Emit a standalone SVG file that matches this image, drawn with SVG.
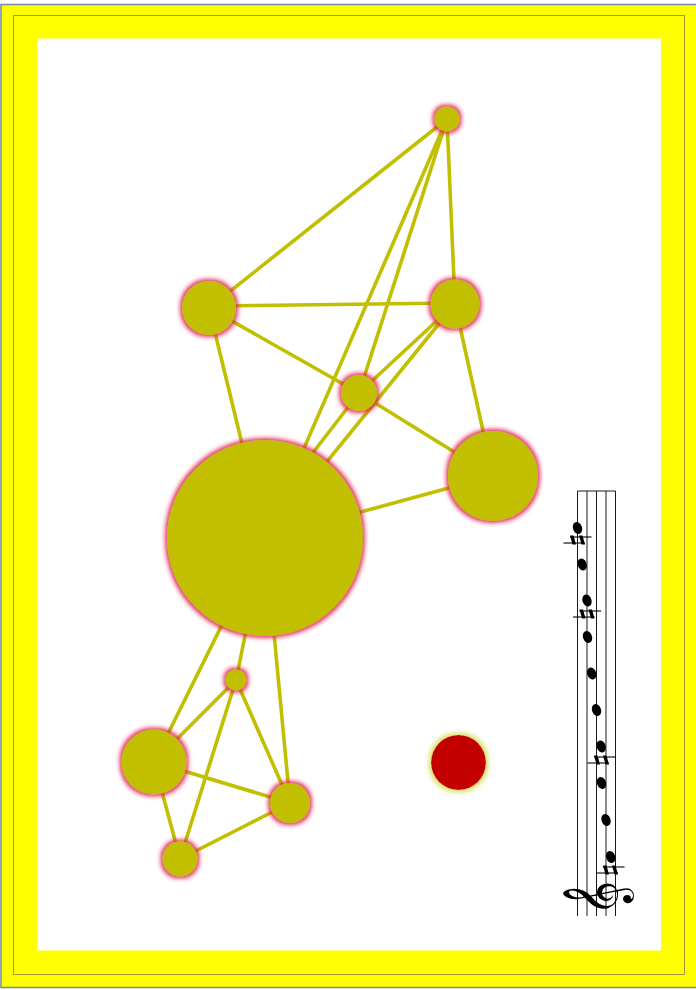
<svg xmlns="http://www.w3.org/2000/svg" width="696" height="990" viewBox="0 0 696 990">
<style>
.edge{stroke:#c1bf00;stroke-width:3.6;stroke-linecap:round;fill:none}
.node{fill:#c1bf00;filter:url(#glow)}
.staff{stroke:#1a1a1a;stroke-width:1;fill:none}
.head{fill:#000}
</style>
<defs>
<filter id="glow" x="-50%" y="-50%" width="200%" height="200%">
<feMorphology in="SourceAlpha" operator="dilate" radius="1.5" result="d"/>
<feGaussianBlur in="d" stdDeviation="2.2" result="b"/>
<feFlood flood-color="#e02050" flood-opacity="0.9"/>
<feComposite in2="b" operator="in" result="g"/>
<feMerge><feMergeNode in="g"/><feMergeNode in="SourceGraphic"/></feMerge>
</filter>
<filter id="glowY" x="-50%" y="-50%" width="200%" height="200%">
<feMorphology in="SourceAlpha" operator="dilate" radius="1.5" result="d"/>
<feGaussianBlur in="d" stdDeviation="2.5" result="b"/>
<feFlood flood-color="#d8d850" flood-opacity="0.9"/>
<feComposite in2="b" operator="in" result="g"/>
<feMerge><feMergeNode in="g"/><feMergeNode in="SourceGraphic"/></feMerge>
</filter>
<g id="sharp">
<line x1="-7.5" y1="-3" x2="14" y2="-3" stroke="#000" stroke-width="1.1"/>
<line x1="-14" y1="3" x2="7.5" y2="3" stroke="#000" stroke-width="1.1"/>
<polygon points="-7.5,-4.5 -4,-4.5 -1.5,4.5 -5,4.5" fill="#000"/>
<polygon points="1.5,-4.5 5,-4.5 7.5,4.5 4,4.5" fill="#000"/>
</g>
<ellipse id="nh" cx="0" cy="0" rx="4.5" ry="6.2" transform="rotate(-20)"/>
</defs>
<rect x="0" y="0" width="696" height="990" fill="#ffffff"/>
<g id="frame">
<rect x="1" y="4.5" width="700" height="983" fill="#ffff00" stroke="#7888a8" stroke-width="1.5"/>
<rect x="13.5" y="15.5" width="671" height="959" fill="none" stroke="#a8963c" stroke-width="1"/>
<rect x="37" y="38.5" width="624" height="912" fill="#ffffff"/>
</g>
<g id="connectors">
<line class="edge" x1="447" y1="119" x2="209" y2="308"/>
<line class="edge" x1="447" y1="119" x2="455" y2="304"/>
<line class="edge" x1="447" y1="119" x2="359" y2="393"/>
<line class="edge" x1="447" y1="119" x2="265" y2="538"/>
<line class="edge" x1="209" y1="306" x2="455" y2="303"/>
<line class="edge" x1="209" y1="308" x2="359" y2="393"/>
<line class="edge" x1="209" y1="308" x2="265" y2="538"/>
<line class="edge" x1="455" y1="304" x2="359" y2="393"/>
<line class="edge" x1="455" y1="304" x2="265" y2="538"/>
<line class="edge" x1="455" y1="304" x2="493" y2="476"/>
<line class="edge" x1="359" y1="393" x2="493" y2="476"/>
<line class="edge" x1="359" y1="393" x2="288" y2="485"/>
<line class="edge" x1="493" y1="476" x2="265" y2="538"/>
<line class="edge" x1="265" y1="538" x2="236" y2="680"/>
<line class="edge" x1="265" y1="538" x2="154" y2="762"/>
<line class="edge" x1="265" y1="538" x2="290" y2="803"/>
<line class="edge" x1="236" y1="680" x2="154" y2="762"/>
<line class="edge" x1="236" y1="680" x2="290" y2="803"/>
<line class="edge" x1="236" y1="680" x2="180" y2="859"/>
<line class="edge" x1="154" y1="762" x2="290" y2="803"/>
<line class="edge" x1="154" y1="762" x2="180" y2="859"/>
<line class="edge" x1="290" y1="803" x2="180" y2="859"/>
</g>
<g id="nA"><circle class="node" cx="447" cy="119" r="12.5"/></g>
<g id="nB"><circle class="node" cx="209" cy="308" r="27"/></g>
<g id="nC"><circle class="node" cx="455" cy="304" r="24.5"/></g>
<g id="nD"><circle class="node" cx="359" cy="393" r="18"/></g>
<g id="nE"><circle class="node" cx="493" cy="476" r="45"/></g>
<g id="nF"><circle class="node" cx="265" cy="538" r="98"/></g>
<g id="nG"><circle class="node" cx="236" cy="680" r="10.5"/></g>
<g id="nH"><circle class="node" cx="154" cy="762" r="32.5"/></g>
<g id="nI"><circle class="node" cx="290" cy="803" r="20"/></g>
<g id="nJ"><circle class="node" cx="180" cy="859" r="17.5"/></g>
<g id="red"><circle cx="458.5" cy="762.5" r="27.5" fill="#c20000" filter="url(#glowY)"/></g>
<g id="music">
<line class="staff" x1="577.5" y1="491" x2="577.5" y2="916"/>
<line class="staff" x1="587" y1="491" x2="587" y2="916"/>
<line class="staff" x1="596.5" y1="491" x2="596.5" y2="916"/>
<line class="staff" x1="606" y1="491" x2="606" y2="916"/>
<line class="staff" x1="615.5" y1="491" x2="615.5" y2="916"/>
<line class="staff" x1="577.5" y1="491" x2="615.5" y2="491"/>
<use href="#nh" x="577.5" y="528"/>
<use href="#nh" x="582.2" y="564.5"/>
<use href="#nh" x="587" y="600.5"/>
<use href="#nh" x="587.5" y="637"/>
<use href="#nh" x="591.7" y="673.5"/>
<use href="#nh" x="596.5" y="710"/>
<use href="#nh" x="601.2" y="746.5"/>
<use href="#nh" x="601.5" y="783"/>
<use href="#nh" x="606" y="820"/>
<use href="#nh" x="610.7" y="857"/>
<use href="#sharp" x="577.5" y="540"/>
<use href="#sharp" x="587" y="614"/>
<use href="#sharp" x="601.5" y="760"/>
<use href="#sharp" x="610.5" y="870"/>
<text x="0" y="0" transform="translate(617,898) rotate(-90)" font-family="DejaVu Sans, Noto Sans, sans-serif" font-size="60" text-anchor="middle" fill="#000">𝄞</text>
</g>
</svg>
